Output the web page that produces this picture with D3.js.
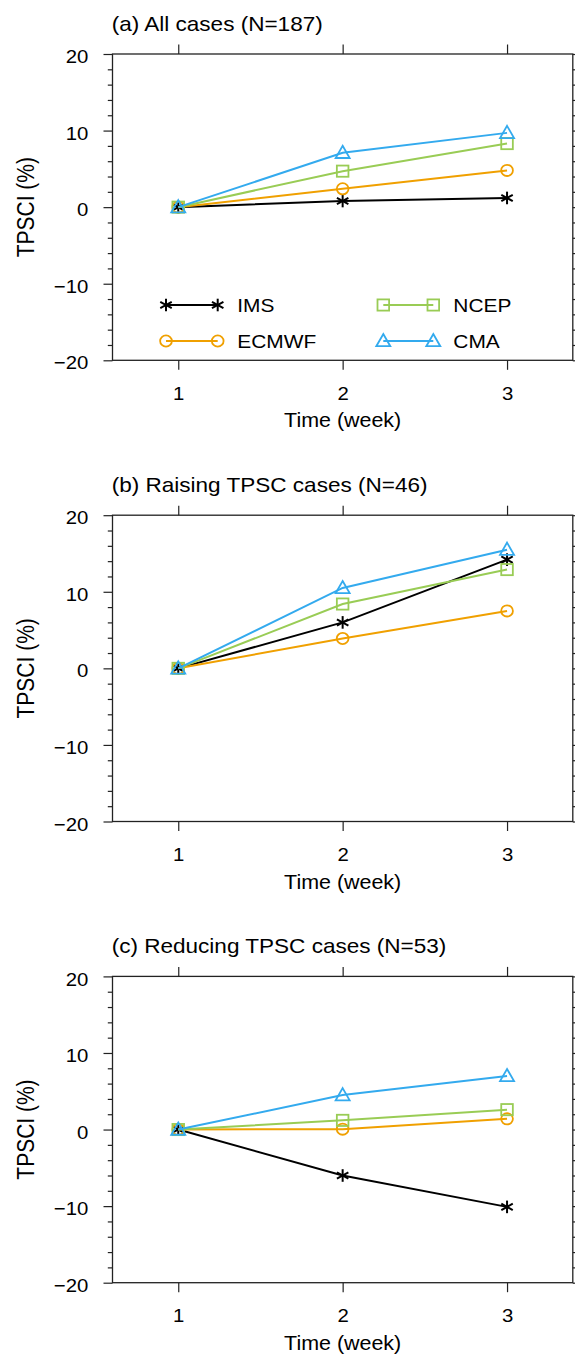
<!DOCTYPE html>
<html><head><meta charset="utf-8">
<script src="https://cdn.jsdelivr.net/npm/d3@7"></script>
<style>body{margin:0;background:#fff}svg{display:block}</style></head>
<body><svg id="c" width="575" height="1356"></svg>
<script>
// ---------- data ----------
const weeks = [1, 2, 3];
const seriesNames = ["IMS", "ECMWF", "NCEP", "CMA"];
const seriesColors = ["#000000", "#F0A000", "#99CC55", "#33AAEE"];
const seriesMarkers = ["asterisk", "circle", "square", "triangle"];
const panelTitles = ["(a) All cases (N=187)", "(b) Raising TPSC cases (N=46)", "(c) Reducing TPSC cases (N=53)"];
const yTickValues = [-20, -10, 0, 10, 20];
const yTickLabels = ["\u221220", "\u221210", "0", "10", "20"];
const xTickLabels = ["1", "2", "3"];
const yLabel = "TPSCI (%)";
const xLabel = "Time (week)";

const imsAll = [0, 0.8, 1.2];
const ecmwfAll = [0, 2.4, 4.8];
const ncepAll = [0, 4.7, 8.3];
const cmaAll = [0, 7.1, 9.7];

const imsRaise = [0, 6.0, 14.2];
const ecmwfRaise = [0, 3.9, 7.5];
const ncepRaise = [0, 8.4, 12.9];
const cmaRaise = [0, 10.5, 15.5];

const imsReduce = [0, -6.0, -10.1];
const ecmwfReduce = [0, 0.05, 1.4];
const ncepReduce = [0, 1.2, 2.6];
const cmaReduce = [0, 4.5, 7.0];

const panelData = [
  [imsAll, ecmwfAll, ncepAll, cmaAll],
  [imsRaise, ecmwfRaise, ncepRaise, cmaRaise],
  [imsReduce, ecmwfReduce, ncepReduce, cmaReduce]
];

// ---------- layout ----------
const SX = 1.1; // horizontal text stretch
const FONT = "'Liberation Sans', Arial, Helvetica, sans-serif";
const plotLeft = 112.5, plotRight = 572.8;
const firstTop = 54, plotH = 306.3, panelStep = 461.2;

const svg = d3.select("#c");
const x = d3.scaleLinear().domain([0.6, 3.4]).range([plotLeft, plotRight]);

function marker(g, type, cx, cy, color) {
  const s = g.append("g").attr("transform", `translate(${cx},${cy})`)
    .attr("fill", "none").attr("stroke", color).attr("stroke-width", 1.8);
  if (type === "circle") {
    s.append("ellipse").attr("rx", 5.6 * 1.05).attr("ry", 5.6);
  } else if (type === "square") {
    s.append("rect").attr("x", -5.8).attr("y", -5.6).attr("width", 11.6).attr("height", 11.2);
  } else if (type === "triangle") {
    s.append("path").attr("d", "M0,-7 L7,5.2 L-7,5.2 Z").attr("stroke-linejoin", "miter");
  } else {
    const r = 6.3;
    s.append("line").attr("x1", 0).attr("y1", -r).attr("x2", 0).attr("y2", r);
    const a = Math.PI / 6;
    s.append("line").attr("x1", -r * Math.cos(a) * 1.05).attr("y1", -r * Math.sin(a))
      .attr("x2", r * Math.cos(a) * 1.05).attr("y2", r * Math.sin(a));
    s.append("line").attr("x1", -r * Math.cos(a) * 1.05).attr("y1", r * Math.sin(a))
      .attr("x2", r * Math.cos(a) * 1.05).attr("y2", -r * Math.sin(a));
    s.attr("stroke-width", 2);
  }
}

function stretchedText(g, tx, ty, str, size, anchor) {
  return g.append("text")
    .attr("transform", `translate(${tx},${ty}) scale(${SX},1)`)
    .attr("text-anchor", anchor || "start")
    .attr("font-family", FONT).attr("font-size", size).attr("fill", "#000")
    .text(str);
}

panelData.forEach((series, p) => {
  const top = firstTop + p * panelStep;
  const bottom = top + plotH;
  const y = d3.scaleLinear().domain([-20, 20]).range([bottom, top]);
  const g = svg.append("g");

  const minorVals = d3.range(-20, 21, 2).filter(v => v % 10 !== 0);

  // left axis major
  const left = g.append("g").attr("transform", `translate(${plotLeft},0)`)
    .call(d3.axisLeft(y).tickValues(yTickValues).tickSize(9).tickSizeOuter(0)
      .tickFormat((d, i) => yTickLabels[i]));
  left.selectAll("text").attr("x", null).attr("dy", null)
    .attr("transform", `translate(-24.2,8.6) scale(${SX},1)`)
    .attr("font-family", FONT).attr("font-size", 18.5).attr("text-anchor", "end");
  g.append("g").attr("transform", `translate(${plotLeft},0)`)
    .call(d3.axisLeft(y).tickValues(minorVals).tickSize(4.7).tickFormat(""));
  // right axis
  g.append("g").attr("transform", `translate(${plotRight},0)`)
    .call(d3.axisRight(y).tickValues(yTickValues).tickSize(9).tickFormat(""));
  g.append("g").attr("transform", `translate(${plotRight},0)`)
    .call(d3.axisRight(y).tickValues(minorVals).tickSize(4.7).tickFormat(""));
  // bottom axis
  const bot = g.append("g").attr("transform", `translate(0,${bottom})`)
    .call(d3.axisBottom(x).tickValues(weeks).tickSize(9.5).tickFormat((d, i) => xTickLabels[i]));
  bot.selectAll("text").attr("y", null).attr("dy", null)
    .attr("transform", `translate(0,39.5) scale(${SX},1)`)
    .attr("font-family", FONT).attr("font-size", 18.5);
  // top axis
  g.append("g").attr("transform", `translate(0,${top})`)
    .call(d3.axisTop(x).tickValues(weeks).tickSize(9.5).tickFormat(""));

  g.selectAll(".domain").remove();
  g.selectAll(".tick line").attr("stroke", "#222").attr("stroke-width", 1.2);

  // frame
  g.append("rect").attr("x", plotLeft).attr("y", top)
    .attr("width", plotRight - plotLeft).attr("height", plotH)
    .attr("fill", "none").attr("stroke", "#222").attr("stroke-width", 1.3);

  // titles and labels
  stretchedText(g, 111.7, top - 23.3, panelTitles[p], 20.5);
  stretchedText(g, (plotLeft + plotRight) / 2, bottom + 67, xLabel, 19.5, "middle");
  g.append("text")
    .attr("transform", `translate(33.5,${(top + bottom) / 2}) scale(${SX},1) rotate(-90)`)
    .attr("text-anchor", "middle").attr("font-family", FONT).attr("font-size", 21)
    .text(yLabel);

  // series
  const line = d3.line().x((d, i) => x(weeks[i])).y(d => y(d));
  series.forEach((vals, s) => {
    g.append("path").datum(vals).attr("d", line)
      .attr("fill", "none").attr("stroke", seriesColors[s]).attr("stroke-width", 2);
    vals.forEach((v, i) => marker(g, seriesMarkers[s], x(weeks[i]), y(v), seriesColors[s]));
  });

  // legend only in panel (a)
  if (p === 0) {
    const legendCols = [[166, 217.7, 237.3], [383.3, 433.3, 453.3]];
    const legendRows = [305, 341];
    const legendOrder = [0, 2, 1, 3]; // IMS, NCEP (row 1); ECMWF, CMA (row 2)
    legendOrder.forEach((s, k) => {
      const col = legendCols[k % 2];
      const ly = legendRows[Math.floor(k / 2)];
      g.append("line").attr("x1", col[0]).attr("x2", col[1]).attr("y1", ly).attr("y2", ly)
        .attr("stroke", seriesColors[s]).attr("stroke-width", 2);
      marker(g, seriesMarkers[s], col[0], ly, seriesColors[s]);
      marker(g, seriesMarkers[s], col[1], ly, seriesColors[s]);
      stretchedText(g, col[2], ly + 7.3, seriesNames[s], 19);
    });
  }
});
</script>
</body></html>
